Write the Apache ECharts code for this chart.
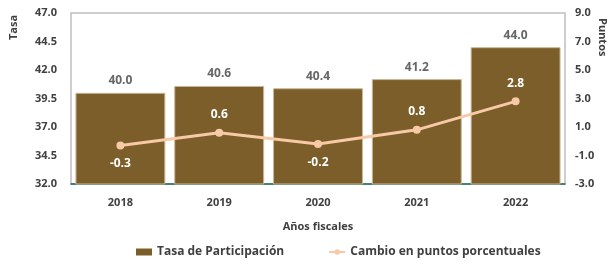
<!DOCTYPE html>
<html><head><meta charset="utf-8">
<script src="https://cdn.jsdelivr.net/npm/echarts@6/dist/echarts.min.js"></script>
<style>html,body{margin:0;padding:0;background:#fff}#c{width:609px;height:264px}</style>
</head><body><div id="c"></div>
<script>
const categories = ['2018','2019','2020','2021','2022'];
const tasa = [40.0, 40.6, 40.4, 41.2, 44.0];
const cambio = [-0.3, 0.6, -0.2, 0.8, 2.8];
const cambioLabelPos = ['bottom','top','bottom','top','top'];
const FONT = '"Open Sans", sans-serif';

const chart = echarts.init(document.getElementById('c'));
chart.setOption({
  animation: false,
  textStyle: { fontFamily: FONT },
  grid: { left: 71, right: 44, top: 13, bottom: 80, show: true, borderColor: '#bfbfbf', borderWidth: 1.5 },
  legend: {
    bottom: 1, left: 131, itemGap: 44, itemWidth: 16, itemHeight: 7,
    textStyle: { fontFamily: FONT, fontWeight: 'bold', fontSize: 12, color: '#404040' },
    data: [
      { name: 'Tasa de Participación', icon: 'rect', itemStyle: { borderWidth: 0 } },
      { name: 'Cambio en puntos porcentuales' }
    ]
  },
  xAxis: {
    type: 'category', data: categories,
    name: 'Años fiscales', nameLocation: 'middle', nameGap: 37,
    nameTextStyle: { fontFamily: FONT, fontWeight: 'bold', fontSize: 11, color: '#404040' },
    axisLine: { onZero: false, lineStyle: { color: '#1f6b50', width: 1.5 } },
    axisTick: { show: false },
    axisLabel: { fontFamily: FONT, fontWeight: 'bold', fontSize: 11, color: '#404040', margin: 13 }
  },
  yAxis: [
    { type: 'value', min: 32, max: 47, interval: 2.5,
      splitLine: { show: false }, axisLine: { show: false }, axisTick: { show: false },
      axisLabel: { fontFamily: FONT, fontWeight: 'bold', fontSize: 11, color: '#404040', margin: 14,
        formatter: v => v.toFixed(1) } },
    { type: 'value', min: -3, max: 9, interval: 2,
      splitLine: { show: false }, axisLine: { show: false }, axisTick: { show: false },
      axisLabel: { fontFamily: FONT, fontWeight: 'bold', fontSize: 11, color: '#404040', margin: 10,
        formatter: v => v.toFixed(1) } }
  ],
  series: [
    { name: 'Tasa de Participación', type: 'bar', data: tasa, barCategoryGap: '9%',
      itemStyle: { color: '#7b5e29', borderColor: '#c8b89a', borderWidth: 1 },
      label: { show: true, position: 'top', distance: 6, fontFamily: FONT, fontWeight: 'bold', fontSize: 12,
        color: '#666666', formatter: p => p.value.toFixed(1) } },
    { name: 'Cambio en puntos porcentuales', type: 'line', yAxisIndex: 1,
      data: cambio.map((v, i) => ({ value: v, label: { position: cambioLabelPos[i] } })),
      symbol: 'circle', symbolSize: 8,
      lineStyle: { color: '#f7c9a6', width: 3 }, itemStyle: { color: '#f7c9a6' },
      label: { show: true, distance: 8, fontFamily: FONT, fontWeight: 'bold', fontSize: 12, color: '#ffffff',
        formatter: p => p.value.toFixed(1) } }
  ],
  graphic: [
    { type: 'text', x: 8, y: 40, rotation: Math.PI / 2,
      style: { text: 'Tasa', font: 'bold 11px ' + FONT, fill: '#404040' } },
    { type: 'text', x: 608, y: 18, rotation: -Math.PI / 2,
      style: { text: 'Puntos', font: 'bold 11px ' + FONT, fill: '#404040' } }
  ]
});
</script></body></html>
